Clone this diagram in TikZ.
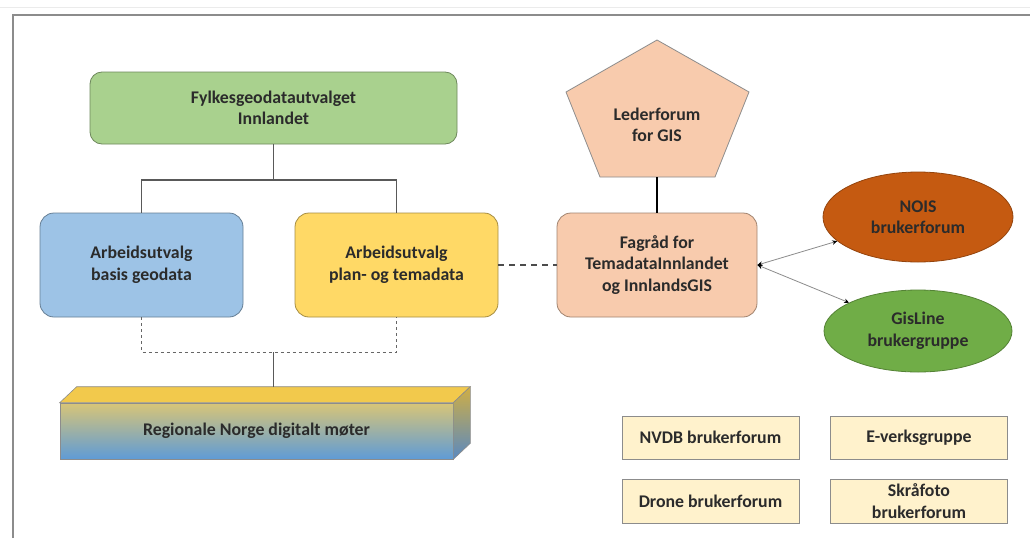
\documentclass[tikz,border=0pt]{standalone}
\usepackage{fontspec}
\setmainfont{Carlito}
\usetikzlibrary{shapes.geometric,arrows.meta,calc}
\definecolor{cgreen}{HTML}{A9D18E}
\definecolor{cblue}{HTML}{9DC3E6}
\definecolor{cyellow}{HTML}{FFD966}
\definecolor{cpeach}{HTML}{F8CBAD}
\definecolor{corange}{HTML}{C55A11}
\definecolor{cgreentwo}{HTML}{70AD47}
\definecolor{ccream}{HTML}{FFF2CC}
\definecolor{txt}{HTML}{2B2B2B}
\definecolor{frame}{HTML}{8C8C8C}
\definecolor{ctop}{HTML}{F2C94C}
\definecolor{cfrontA}{HTML}{D8C577}
\definecolor{cfrontB}{HTML}{AFCBEA}
\definecolor{cfrontC}{HTML}{5F9BD6}
\definecolor{csideA}{HTML}{CFAE45}
\definecolor{csideB}{HTML}{5A89C0}
\newcommand\fs{\fontsize{17.8}{21.5}\selectfont\bfseries}
\begin{document}
\begin{tikzpicture}[x=1pt,y=-1pt,
  lbl/.style={font=\fs, text=txt, align=center, inner sep=0pt},
  rbox/.style={lbl, draw=#1!65!black, line width=0.8pt, fill=#1, rounded corners=14pt,
     minimum width=203pt, minimum height=104pt},
  oval/.style={lbl, ellipse, draw=#1!75!black, line width=0.8pt, fill=#1},
  sbox/.style={lbl, draw=frame, line width=1pt, fill=ccream, minimum width=177pt, minimum height=43pt},
  conn/.style={draw=black!65, line width=1.2pt},
  dconn/.style={draw=black!60, line width=1pt, dash pattern=on 3pt off 3pt},
  dconnb/.style={draw=black!70, line width=1.2pt, dash pattern=on 6pt off 5pt},
  arr/.style={draw=black!45, line width=0.8pt, {Stealth[length=5pt,width=4.5pt,black]}-{Stealth[length=5pt,width=4.5pt,black]}},
]
\useasboundingbox (0,0) rectangle (1030,538);
\fill[white] (0,0) rectangle (1030,538);
% frame
\draw[frame, line width=1.6pt] (13,538) -- (13,15) -- (1030,15);
\draw[black!8, line width=0.8pt] (0,7) -- (1030,7);

% boxes
\node[rbox=cgreen, minimum width=367pt, minimum height=72pt, rounded corners=12pt] (fylke) at (273.5,108) {Fylkesgeodatautvalget\\Innlandet};
\node[rbox=cblue] (basis) at (141.5,265) {Arbeidsutvalg\\basis geodata};
\node[rbox=cyellow] (plan) at (396.5,265) {Arbeidsutvalg\\plan- og temadata};
\node[rbox=cpeach, minimum width=200pt] (fagrad) at (657,265) {Fagråd for\\TemadataInnlandet\\og InnlandsGIS};

% pentagon
\coordinate (pa) at (657,40);
\coordinate (pb) at (749,92);
\coordinate (pc) at (715,177);
\coordinate (pd) at (600,177);
\coordinate (pe) at (566,92);
\draw[draw=frame, line width=0.8pt, fill=cpeach] (pa) -- (pb) -- (pc) -- (pd) -- (pe) -- cycle;
\node[lbl] (leder) at (657,125) {Lederforum\\for GIS};
\coordinate (lederbot) at (657,177);

% ellipses
\node[oval=corange, minimum width=190pt, minimum height=90pt] (nois) at (918,217) {NOIS\\brukerforum};
\node[oval=cgreentwo, minimum width=188pt, minimum height=82pt] (gisline) at (918,331) {GisLine\\brukergruppe};

% small boxes
\node[sbox] (nvdb) at (710.5,437.5) {NVDB brukerforum};
\node[sbox] (ever) at (919,437.5) {E-verksgruppe};
\node[sbox, minimum height=44pt] (drone) at (710.5,501) {Drone brukerforum};
\node[sbox, minimum height=44pt] (skra) at (919,501) {Skråfoto\\brukerforum};

% 3D box
\node[lbl, minimum width=393pt, minimum height=56pt, top color=cfrontA, middle color=cfrontB, bottom color=cfrontC, draw=frame, line width=0.6pt] (regional) at (256.5,431) {Regionale Norge digitalt møter};
\draw[draw=frame, line width=0.6pt, fill=ctop] (regional.north west) -- ++(17,-16) -- ($(regional.north east)+(17,-16)$) -- (regional.north east) -- cycle;
\shade[top color=csideA, bottom color=csideB, draw=frame, line width=0.6pt] (regional.north east) -- ++(17,-16) -- ($(regional.south east)+(17,-16)$) -- (regional.south east) -- cycle;
\coordinate (rtop) at ($(regional.north)+(17,-16)$);

% connectors
\coordinate (j1) at (273.5,180);
\coordinate (j2) at (273.5,352);
\draw[conn] (fylke.south) -- (j1);
\draw[conn] (basis.north) |- (j1) -| (plan.north);
\draw[dconn] (basis.south) |- (j2) -| (plan.south);
\draw[conn] (j2) -- (rtop);
\draw[dconnb] (plan.east) -- (fagrad.west);
\draw[black, line width=2pt] (lederbot) -- (fagrad.north);
\draw[arr] (fagrad.east) -- (nois);
\draw[arr] (fagrad.east) -- (gisline);
\end{tikzpicture}
\end{document}
